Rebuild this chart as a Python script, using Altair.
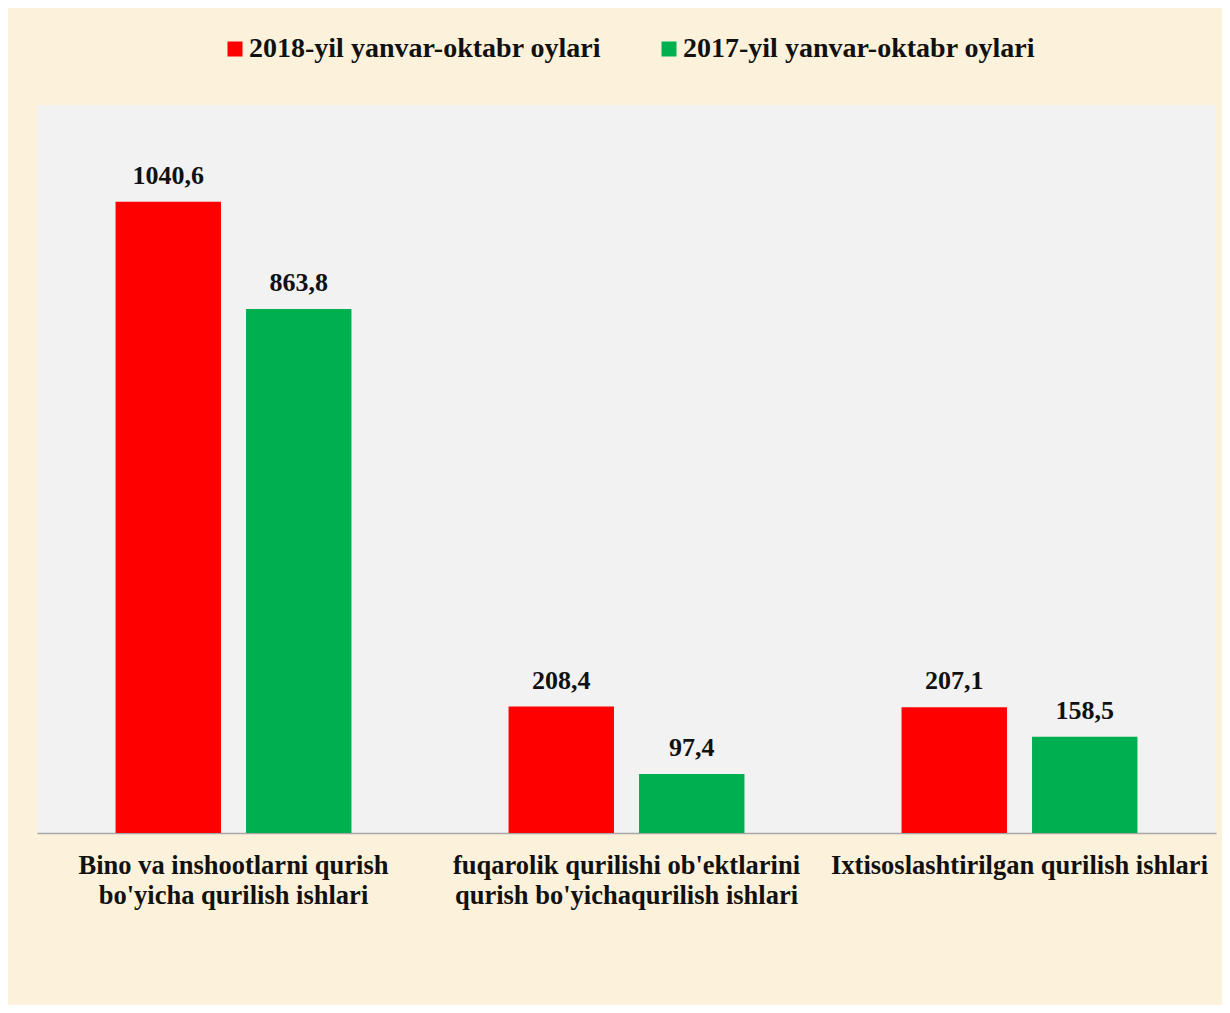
import altair as alt
import pandas as pd

categories = [
    "Bino va inshootlarni qurish\nbo'yicha qurilish ishlari",
    "fuqarolik qurilishi ob'ektlarini\nqurish bo'yichaqurilish ishlari",
    "Ixtisoslashtirilgan qurilish ishlari",
]
series = ["2018-yil yanvar-oktabr oylari", "2017-yil yanvar-oktabr oylari"]
values_2018 = [1040.6, 208.4, 207.1]
values_2017 = [863.8, 97.4, 158.5]
colors = ["#FF0000", "#00B050"]

rows = []
for i, c in enumerate(categories):
    for s, vals in zip(series, [values_2018, values_2017]):
        v = vals[i]
        rows.append({"cat": c, "series": s, "value": v,
                     "label": f"{v:.1f}".replace(".", ",")})
df = pd.DataFrame(rows)

FONT = "Liberation Serif"

x = alt.X("cat:N", sort=categories, title=None,
          scale=alt.Scale(paddingInner=0, paddingOuter=0),
          axis=alt.Axis(labelExpr="split(datum.label, '\\n')", labelAngle=0,
                        labelFont=FONT, labelFontWeight="bold", labelFontSize=26.5,
                        labelColor="#111111", labelLineHeight=30, labelPadding=19,
                        labelBaseline="top", labelLimit=0,
                        ticks=False, domainColor="#A6A6A6", domainWidth=1.5))
xo = alt.XOffset("series:N", sort=series,
                 scale=alt.Scale(paddingInner=0.192, paddingOuter=0.602))
y = alt.Y("value:Q", scale=alt.Scale(domain=[0, 1200]), axis=None)

bars = alt.Chart(df).mark_bar().encode(
    x=x, xOffset=xo, y=y,
    color=alt.Color("series:N", sort=series,
                    scale=alt.Scale(domain=series, range=colors),
                    legend=alt.Legend(title=None, orient="none", direction="horizontal",
                                      legendX=184, legendY=-70,
                                      symbolType="square", symbolSize=225,
                                      symbolStrokeWidth=0,
                                      labelFont=FONT, labelFontWeight="bold",
                                      labelFontSize=28, labelColor="#111111",
                                      labelOffset=0, columnPadding=53,
                                      labelLimit=0)),
)

texts = alt.Chart(df).mark_text(font=FONT, fontWeight="bold", fontSize=26,
                                color="#111111", baseline="alphabetic", dy=-18).encode(
    x=x, xOffset=xo, y=y, text="label:N")

chart = (bars + texts).properties(
    width=1179, height=728,
    autosize=alt.AutoSizeParams(type="none"),
    padding={"left": 29, "top": 97, "right": 6, "bottom": 172},
    background="#FCF1DB",
).configure_view(fill="#F2F2F2", strokeWidth=0)

chart.save("out.html", embed_options={"renderer": "svg", "actions": False})
